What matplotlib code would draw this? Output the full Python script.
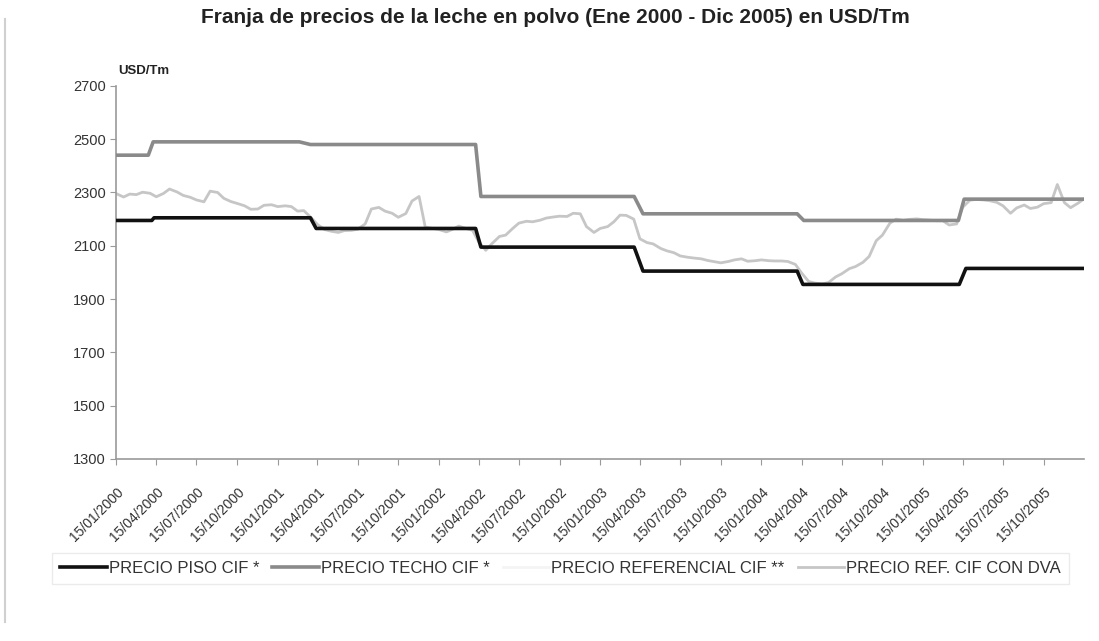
import matplotlib
matplotlib.use("Agg")
import matplotlib.pyplot as plt
import matplotlib.dates as mdates
import pandas as pd

plt.rcParams['font.family'] = ['Liberation Sans', 'DejaVu Sans']

# precio piso y techo: puntos de quiebre (fecha, USD/Tm)
piso_fechas = ["2000-01-15", "2000-04-05", "2000-04-10", "2001-03-30", "2001-04-12",
               "2002-04-08", "2002-04-20", "2003-04-02", "2003-04-22", "2004-04-05",
               "2004-04-18", "2005-04-07", "2005-04-22", "2006-01-12"]
piso_valores = [2195, 2195, 2205, 2205, 2165, 2165, 2095, 2095, 2005, 2005,
                1955, 1955, 2015, 2015]

techo_fechas = ["2000-01-15", "2000-03-28", "2000-04-08", "2001-03-05", "2001-03-30",
                "2002-04-08", "2002-04-20", "2003-04-02", "2003-04-22", "2004-04-05",
                "2004-04-20", "2005-04-05", "2005-04-18", "2006-01-12"]
techo_valores = [2440, 2440, 2490, 2490, 2480, 2480, 2285, 2285, 2220, 2220,
                 2195, 2195, 2275, 2275]

# precio referencial con DVA, quincenal desde 15/01/2000
ref_inicio = "2000-01-15"
ref_valores = [
    2296, 2283, 2294, 2292, 2301, 2297, 2284, 2296, 2313, 2302,
    2289, 2282, 2272, 2265, 2305, 2300, 2278, 2266, 2259, 2250,
    2237, 2238, 2252, 2254, 2247, 2250, 2247, 2230, 2232, 2205,
    2180, 2161, 2155, 2150, 2157, 2158, 2162, 2182, 2238, 2244,
    2230, 2222, 2207, 2221, 2268, 2285, 2170, 2165, 2161, 2152,
    2162, 2174, 2166, 2158, 2115, 2083, 2108, 2135, 2140, 2165,
    2185, 2192, 2190, 2196, 2204, 2208, 2211, 2210, 2222, 2220,
    2172, 2150, 2165, 2172, 2190, 2215, 2214, 2200, 2126, 2112,
    2107, 2090, 2081, 2074, 2062, 2057, 2054, 2051, 2045, 2040,
    2036, 2041, 2047, 2051, 2042, 2044, 2047, 2044, 2043, 2043,
    2041, 2030, 1998, 1966, 1960, 1957, 1962, 1983, 1995, 2014,
    2022, 2038, 2060, 2119, 2140, 2185, 2200, 2195, 2199, 2201,
    2198, 2196, 2194, 2194, 2178, 2182, 2245, 2271, 2274, 2272,
    2269, 2263, 2250, 2222, 2242, 2253, 2240, 2245, 2258, 2262,
    2330, 2262, 2243, 2260, 2277,
]

y_ticks = [1300, 1500, 1700, 1900, 2100, 2300, 2500, 2700]
x_ticks = pd.date_range("2000-01-01", periods=24, freq="3MS") + pd.Timedelta(days=14)

titulo = "Franja de precios de la leche en polvo (Ene 2000 - Dic 2005) en USD/Tm"
leyenda = ["PRECIO PISO CIF *", "PRECIO TECHO CIF *", "PRECIO REFERENCIAL CIF **",
           "PRECIO REF. CIF CON DVA"]

ref_fechas = pd.date_range(ref_inicio, periods=len(ref_valores), freq="SMS")

fig = plt.figure(figsize=(10.99, 6.41), dpi=100)
ax = fig.add_axes([0.1056, 0.284, 0.881, 0.582])

ax.plot(ref_fechas, ref_valores, color="#c6c6c6", lw=2.0, zorder=2, label=leyenda[3])
ax.plot(pd.to_datetime(piso_fechas), piso_valores, color="#111111", lw=2.6, zorder=3,
        label=leyenda[0])
ax.plot(pd.to_datetime(techo_fechas), techo_valores, color="#8a8a8a", lw=2.6, zorder=3,
        label=leyenda[1])
ax.plot([], [], color="#f4f4f4", lw=2.0, label=leyenda[2])

ax.set_ylim(1300, 2700)
ax.set_yticks(y_ticks)
ax.set_xlim(pd.Timestamp("2000-01-15"), pd.Timestamp("2006-01-15"))
ax.set_xticks(x_ticks)
ax.xaxis.set_major_formatter(mdates.DateFormatter("%d/%m/%Y"))
for lab in ax.get_xticklabels():
    lab.set_rotation(45)
    lab.set_ha("right")
    lab.set_rotation_mode("anchor")

for s in ["top", "right"]:
    ax.spines[s].set_visible(False)
for s in ["left", "bottom"]:
    ax.spines[s].set_color("#9a9a9a")
    ax.spines[s].set_linewidth(1.2)
ax.tick_params(axis="both", colors="#9a9a9a", length=4, labelcolor="#333333")
ax.tick_params(axis="y", labelsize=10.5)
ax.tick_params(axis="x", labelsize=10, pad=15)

fig.text(0.505, 0.972, titulo, ha="center", va="center", fontsize=15, fontweight="bold",
         color="#222222")
fig.text(0.108, 0.89, "USD/Tm", ha="left", va="center", fontsize=9.5, fontweight="bold",
         color="#222222")

h, l = ax.get_legend_handles_labels()
orden = [1, 2, 3, 0]
leg = fig.legend([h[i] for i in orden], [l[i] for i in orden], loc="center",
                 bbox_to_anchor=(0.51, 0.113), ncol=4, fontsize=12, frameon=True,
                 handlelength=2.8, handletextpad=0.1, columnspacing=0.8,
                 fancybox=False, borderpad=0.5)
leg.get_frame().set_edgecolor("#e6e6e6")
for t in leg.get_texts():
    t.set_color("#333333")

# marco del grafico
fig.add_artist(plt.Line2D([0.005, 0.005], [0.03, 0.97], transform=fig.transFigure,
                          color="#d0d0d0", lw=1.5))

fig.savefig("out.png", dpi=100, facecolor="white")
